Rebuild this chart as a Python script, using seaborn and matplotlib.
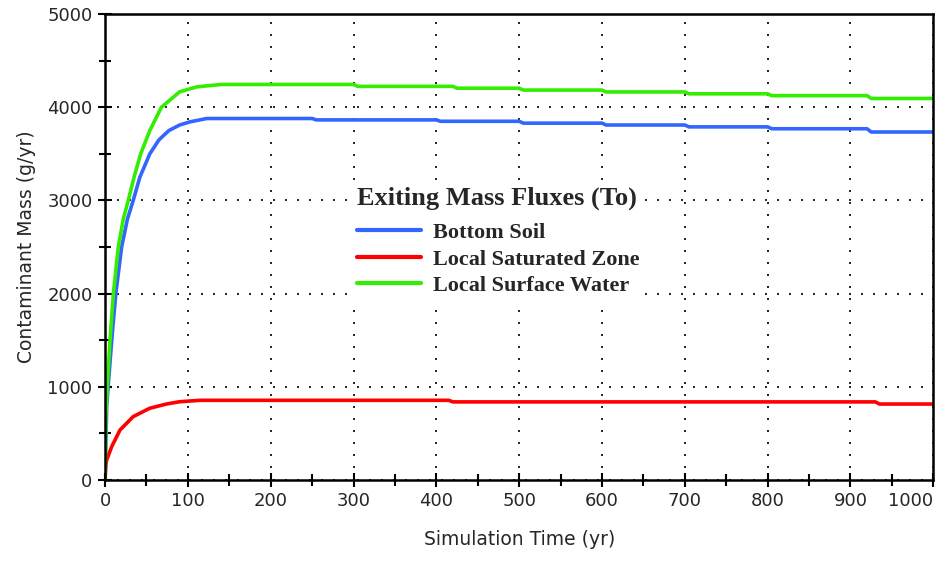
import numpy as np
import pandas as pd
import matplotlib
matplotlib.use('Agg')
import matplotlib.pyplot as plt
from matplotlib.ticker import MultipleLocator
import seaborn as sns

# %% Data (yr, g/yr)
t_soil = [0, 2, 5, 9, 13, 20, 27, 34, 42, 54, 65, 77, 90, 103, 123, 250,
          255, 400, 405, 500, 505, 600, 605, 700, 705, 800, 805, 920, 925, 1000]
m_soil = [0, 800, 1150, 1600, 2000, 2500, 2800, 3000, 3250, 3500, 3650, 3750, 3810, 3845, 3880, 3880,
          3865, 3865, 3850, 3850, 3830, 3830, 3810, 3810, 3790, 3790, 3770, 3770, 3735, 3735]

t_sat = [0, 1, 2, 8, 18, 34, 54, 74, 90, 115, 415, 420, 930, 935, 1000]
m_sat = [0, 170, 215, 357, 536, 680, 770, 815, 840, 855, 855, 838, 838, 815, 815]

t_surf = [0, 1, 3, 6, 10, 16, 22, 28, 35, 43, 54, 68, 90, 111, 140, 300,
          305, 420, 425, 500, 505, 600, 605, 700, 705, 800, 805, 920, 925, 1000]
m_surf = [0, 700, 1050, 1500, 2000, 2500, 2800, 3000, 3250, 3500, 3750, 4000, 4166, 4220, 4245, 4245,
          4225, 4225, 4205, 4205, 4185, 4185, 4165, 4165, 4145, 4145, 4125, 4125, 4095, 4095]

x_ticks = [0, 100, 200, 300, 400, 500, 600, 700, 800, 900, 1000]
y_ticks = [0, 1000, 2000, 3000, 4000, 5000]

series_names = ['Bottom Soil', 'Local Saturated Zone', 'Local Surface Water']
series_colors = ['#3366ff', '#ff0000', '#33ee00']

df = pd.concat([
    pd.DataFrame({'t': t_soil, 'mass': m_soil, 'series': series_names[0]}),
    pd.DataFrame({'t': t_sat, 'mass': m_sat, 'series': series_names[1]}),
    pd.DataFrame({'t': t_surf, 'mass': m_surf, 'series': series_names[2]}),
], ignore_index=True)

# %% Plot
sns.set_style('ticks')
fig = plt.figure(figsize=(9.38, 5.66), dpi=100)
ax = fig.add_axes([0.112, 0.152, 0.883, 0.823])

sns.lineplot(data=df, x='t', y='mass', hue='series', palette=dict(zip(series_names, series_colors)),
             estimator=None, sort=False, linewidth=2.6, ax=ax)

ax.set_xlim(0, 1000)
ax.set_ylim(0, 5000)
ax.set_xticks(x_ticks, labels=[str(v) for v in x_ticks])
ax.set_yticks(y_ticks, labels=[str(v) for v in y_ticks])
ax.xaxis.set_minor_locator(MultipleLocator(50))
ax.yaxis.set_minor_locator(MultipleLocator(500))
ax.tick_params(which='both', direction='inout', color='black', width=1.5)
ax.tick_params(which='major', length=10, labelsize=13, pad=4)
ax.tick_params(which='minor', length=9)
for s in ax.spines.values():
    s.set_visible(True)
    s.set_linewidth(1.8)
    s.set_color('black')

# last x label sits against the right edge
ax.get_xticklabels()[-1].set_horizontalalignment('right')

ax.grid(True, which='major', color='black', linestyle=(0, (1.2, 6)), linewidth=1.2)

ax.set_xlabel('Simulation Time (yr)', fontsize=13.5, labelpad=14)
ax.set_ylabel('Contaminant Mass (g/yr)', fontsize=13.5, labelpad=8)

leg = ax.legend(title='Exiting Mass Fluxes (To)', loc='upper left',
                bbox_to_anchor=(0.297, 0.642), frameon=True, fancybox=False,
                prop={'family': 'Liberation Serif', 'size': 16, 'weight': 'bold'},
                handlelength=2.9, handletextpad=0.55, labelspacing=0.27,
                borderpad=0.25, borderaxespad=0)
leg.get_title().set_fontfamily('Liberation Serif')
leg.get_title().set_fontweight('bold')
leg.get_title().set_fontsize(19)
leg._legend_box.align = 'left'
leg._legend_box.sep = 9
leg.get_frame().set_edgecolor('none')
leg.get_frame().set_facecolor('white')
leg.get_frame().set_alpha(1)
for line in leg.get_lines():
    line.set_linewidth(3)

fig.savefig('out.png', dpi=100)
